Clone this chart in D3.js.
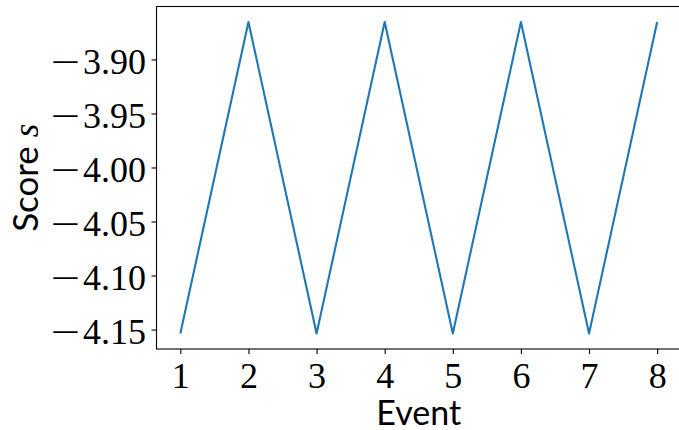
<!DOCTYPE html>
<html>
<head>
<meta charset="utf-8">
<script src="https://cdn.jsdelivr.net/npm/d3@7/dist/d3.min.js"></script>
<style>
  html, body { margin: 0; padding: 0; background: #fff; }
  svg { display: block; }
</style>
</head>
<body>
<svg id="chart" width="679" height="430"></svg>
<script>
const events = [1, 2, 3, 4, 5, 6, 7, 8];
const scores = [-4.1536, -3.8654, -4.1536, -3.8654, -4.1536, -3.8654, -4.1536, -3.8654];
const xTicks = [1, 2, 3, 4, 5, 6, 7, 8];
const yTicks = [-3.90, -3.95, -4.00, -4.05, -4.10, -4.15];
const xLabel = "Event";
const yLabel = "Score";

const pL = 156.5, pR = 681, pT = 6.5, pB = 349;

const svg = d3.select("#chart");

const xPad = (d3.max(events) - d3.min(events)) * 0.05;
const x = d3.scaleLinear()
  .domain([d3.min(events) - xPad, d3.max(events) + xPad])
  .range([pL, pR]);

const yPad = (d3.max(scores) - d3.min(scores)) * 0.05;
const y = d3.scaleLinear()
  .domain([d3.min(scores) - yPad, d3.max(scores) + yPad])
  .range([pB, pT]);

const serif = "'Liberation Serif', 'DejaVu Serif', serif";
const sans = "Lato, 'Open Sans', 'DejaVu Sans', sans-serif";

// line
const line = d3.line().x((d, i) => x(events[i])).y(d => y(d));
svg.append("path")
  .datum(scores)
  .attr("d", line)
  .attr("fill", "none")
  .attr("stroke", "#1f77b4")
  .attr("stroke-width", 2.1)
  .attr("stroke-linejoin", "round")
  .attr("stroke-linecap", "butt");

// spines
svg.append("rect")
  .attr("x", pL).attr("y", pT)
  .attr("width", pR - pL).attr("height", pB - pT)
  .attr("fill", "none").attr("stroke", "#000").attr("stroke-width", 1.1);

// x axis
const xAxis = d3.axisBottom(x).tickValues(xTicks).tickSize(5).tickPadding(8)
  .tickFormat(d3.format("d"));
const gx = svg.append("g").attr("transform", `translate(0,${pB})`).call(xAxis);
gx.select(".domain").remove();
gx.selectAll(".tick line").attr("stroke", "#000").attr("stroke-width", 1.1);
gx.selectAll(".tick text")
  .attr("font-family", serif).attr("font-size", 36).attr("fill", "#000");

// y axis
const yAxis = d3.axisLeft(y).tickValues(yTicks).tickSize(5).tickPadding(5)
  .tickFormat(d => d3.format(".2f")(Math.abs(d)));
const gy = svg.append("g").attr("transform", `translate(${pL},0)`).call(yAxis);
gy.select(".domain").remove();
gy.selectAll(".tick line").attr("stroke", "#000").attr("stroke-width", 1.1);
gy.selectAll(".tick").each(function(d) {
  const g = d3.select(this);
  const t = g.select("text");
  t.attr("font-family", serif).attr("font-size", 36).attr("fill", "#000")
   .attr("dy", "0.4em").attr("x", -10.5);
  const w = t.node().getComputedTextLength();
  if (d < 0) {
    g.append("text")
      .attr("transform", `translate(${-10.5 - w - 3},0) scale(1.45,1)`)
      .attr("text-anchor", "end")
      .attr("dy", "0.4em")
      .attr("font-family", serif).attr("font-size", 36).attr("fill", "#000")
      .text("\u2212");
  }
});

// x label
svg.append("text")
  .attr("x", (pL + pR) / 2).attr("y", 425)
  .attr("text-anchor", "middle")
  .attr("font-family", sans).attr("font-size", 34).attr("fill", "#000")
  .text(xLabel);

// y label
const yl = svg.append("text")
  .attr("transform", `translate(38,${(pT + pB) / 2}) rotate(-90)`)
  .attr("text-anchor", "middle")
  .attr("font-family", sans).attr("font-size", 35).attr("fill", "#000");
yl.append("tspan").text(yLabel + " ");
yl.append("tspan").attr("font-family", serif).attr("font-style", "italic").text("s");
</script>
</body>
</html>
